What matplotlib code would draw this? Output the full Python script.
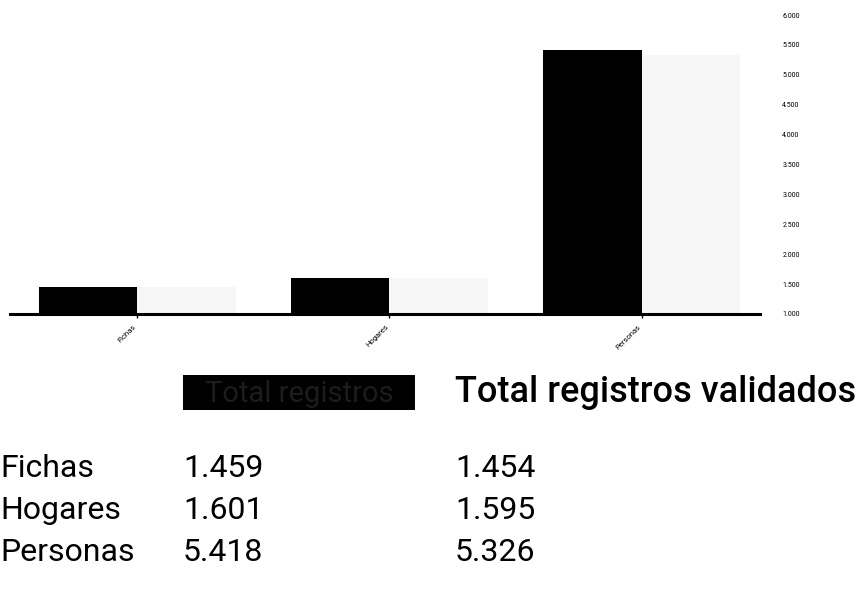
import matplotlib
matplotlib.use("Agg")
import matplotlib.pyplot as plt
from matplotlib.patches import Rectangle
from matplotlib.ticker import FuncFormatter, MultipleLocator
import numpy as np

categories = ["Fichas", "Hogares", "Personas"]
total_registros = [1459, 1601, 5418]
total_validados = [1454, 1595, 5326]
header_1 = "Total registros"
header_2 = "Total registros validados"

W, H = 865, 607
fig = plt.figure(figsize=(W / 100, H / 100), dpi=100)
plt.rcParams['font.family'] = ['Roboto', 'DejaVu Sans']

def fx(px):
    return px / W

def fy(py):
    return 1 - py / H

ax = fig.add_axes([fx(10), fy(314), fx(760) - fx(10), fy(15) - fy(314)])
x = np.arange(len(categories))
bw = 0.39
ax.bar(x - bw, total_registros, width=bw, align='edge', color='black', zorder=2)
ax.bar(x, total_validados, width=bw, align='edge', color='#f6f6f6', zorder=2)
ax.set_xlim(-0.505, 2.47)
ax.set_ylim(1000, 6000)
ax.yaxis.tick_right()
ax.yaxis.set_major_locator(MultipleLocator(500))
ax.yaxis.set_major_formatter(FuncFormatter(lambda v, p: f"{int(v):,}".replace(",", ".")))
ax.tick_params(axis='y', length=0, labelsize=5, pad=16)
ax.set_xticks(x)
ax.set_xticklabels(categories, rotation=45, ha='right', fontsize=5.5)
ax.tick_params(axis='x', length=3, width=1, pad=4)
for s in ['top', 'left', 'right']:
    ax.spines[s].set_visible(False)
ax.spines['bottom'].set_linewidth(2.2)
ax.spines['bottom'].set_zorder(3)

# table acting as legend
fs = 23
fig.patches.append(Rectangle((fx(183), fy(410)), fx(415) - fx(183), fy(375) - fy(410),
                             transform=fig.transFigure, facecolor='black', edgecolor='none'))
fig.text(fx(299), fy(402), header_1, color='#1c1c1c', fontsize=21, ha='center', va='baseline')
fig.text(fx(455), fy(402), header_2, color='black', fontsize=26, fontweight='medium',
         ha='left', va='baseline')
row_y = [477, 519, 561]
for cat, v1, v2, yy in zip(categories, total_registros, total_validados, row_y):
    fig.text(fx(0), fy(yy), cat, fontsize=fs, ha='left', va='baseline', color='black')
    fig.text(fx(183), fy(yy), f"{v1:,}".replace(",", "."), fontsize=fs, ha='left', va='baseline', color='black')
    fig.text(fx(455), fy(yy), f"{v2:,}".replace(",", "."), fontsize=fs, ha='left', va='baseline', color='black')

fig.savefig("out.png", dpi=100, facecolor='white')
